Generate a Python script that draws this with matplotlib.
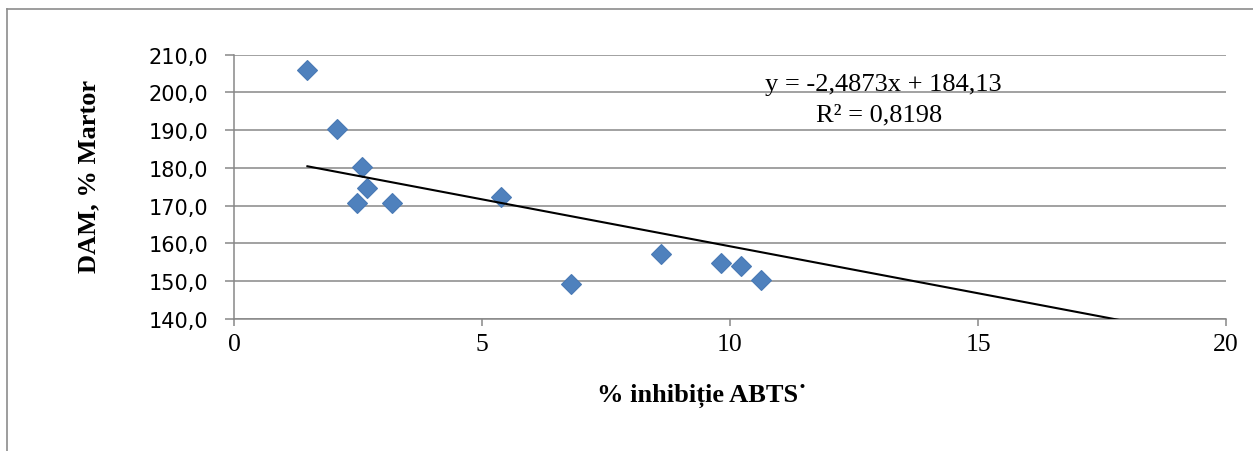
import numpy as np
import matplotlib
matplotlib.use("Agg")
import matplotlib.pyplot as plt
from matplotlib.lines import Line2D

# Datos
inhibitie_abts = [1.48, 2.08, 2.48, 2.58, 2.68, 3.18, 5.39, 6.79, 8.61, 9.82, 10.23, 10.63]
dam_martor = [206.0, 190.3, 170.8, 180.3, 174.8, 170.7, 172.4, 149.2, 157.1, 154.7, 154.0, 150.2]

# Linea de tendencia (ecuacion mostrada en el grafico)
panta = -2.4873
interceptie = 184.13
r2 = 0.8198

x_ticks = [0, 5, 10, 15, 20]
y_ticks = [140, 150, 160, 170, 180, 190, 200, 210]

gris = "#878787"
albastru = "#4F81BD"
serif = "Liberation Serif"

fig = plt.figure(figsize=(12.53, 4.52), dpi=100)
ax = fig.add_axes([234 / 1253, 1 - 320 / 452, 992 / 1253, 264.3 / 452])

# rejilla horizontal
ax.set_axisbelow(True)
ax.yaxis.grid(True, color=gris, linewidth=1.1)

ax.plot(inhibitie_abts, dam_martor, linestyle="none", marker="D",
        markersize=10.5, color=albastru, markeredgecolor="#4A7AB5",
        markeredgewidth=0.8, zorder=3)

# tendencia desde el minimo hasta el final del eje (se recorta en 140)
xt = np.array([min(inhibitie_abts), x_ticks[-1]])
ax.plot(xt, panta * xt + interceptie, color="black", linewidth=1.5, zorder=4)

ax.set_xlim(0, 20)
ax.set_ylim(140, 210)
ax.set_xticks(x_ticks)
ax.set_yticks(y_ticks)
ax.set_xticklabels([str(v) for v in x_ticks], fontfamily=serif, fontsize=18.5)
ax.set_yticklabels([f"{v:.1f}".replace(".", ",") for v in y_ticks],
                   fontfamily="DejaVu Sans", fontsize=15)

for s in ["top", "right"]:
    ax.spines[s].set_visible(False)
for s in ["left", "bottom"]:
    ax.spines[s].set_color(gris)
    ax.spines[s].set_linewidth(1.1)
ax.tick_params(axis="y", direction="out", length=6.5, width=1.1, color=gris, pad=12)
ax.tick_params(axis="x", direction="out", length=5, width=1.1, color=gris, pad=5)

# ecuacion
ax.text(13.1, 202.3, "y = -2,4873x + 184,13", ha="center", va="center",
        fontfamily=serif, fontsize=19)
ax.text(13.0, 194.3, "R² = " + f"{r2}".replace(".", ","), ha="center", va="center",
        fontfamily=serif, fontsize=19)

fig.text(702 / 1253, 1 - 396 / 452, "% inhibiție ABTS\u02D9", ha="center", va="center",
         fontfamily=serif, fontweight="bold", fontsize=19)
fig.text(89 / 1253, 1 - 176 / 452, "DAM, % Martor", ha="center", va="center",
         rotation=90, fontfamily=serif, fontweight="bold", fontsize=19)

# borde del grafico
fig.add_artist(Line2D([7 / 1253, 7 / 1253], [0, 1 - 10 / 452], transform=fig.transFigure,
                      color="#8c8c8c", linewidth=1.2))
fig.add_artist(Line2D([7 / 1253, 1], [1 - 10 / 452, 1 - 10 / 452], transform=fig.transFigure,
                      color="#8c8c8c", linewidth=1.2))

fig.savefig("out.png", dpi=100)
